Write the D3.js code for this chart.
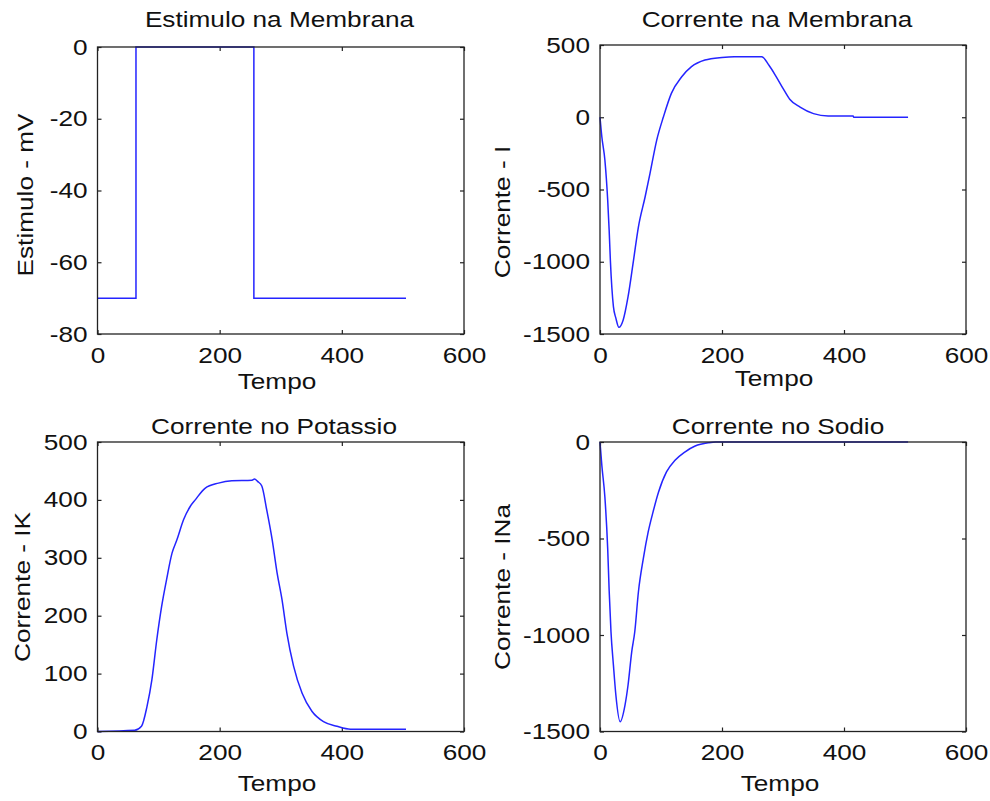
<!DOCTYPE html>
<html>
<head>
<meta charset="utf-8">
<script src="https://cdn.jsdelivr.net/npm/d3@7"></script>
<style>
  body { margin: 0; background: #fff; }
  svg text { font-family: "Liberation Sans", Arial, sans-serif; fill: #111; }
</style>
</head>
<body>
<div id="chart"></div>
<script>
// Estimulo na Membrana (mV) - step from -70 to 0 and back
var stimTime = [0, 63, 63, 256, 256, 505];
var stimValue = [-70, -70, 0, 0, -70, -70];

// Corrente na Membrana
var memTime = [0, 3, 8, 12.6, 15, 17, 22, 26, 31, 38, 46, 55, 63, 74, 82, 93, 104, 117, 134, 150, 172, 200, 220, 265, 277, 289, 300, 311, 328, 350, 374, 415, 416, 505];
var memValue = [0, -135, -296, -573, -780, -990, -1311, -1390, -1454, -1403, -1242, -988, -758, -550, -388, -158, 3, 165, 280, 350, 396, 414, 419, 419, 360, 280, 200, 125, 70, 25, 8, 8, 0, 0];

// Corrente no Potassio
var kTime = [0, 61, 72, 81, 89, 97, 105, 113, 122, 130, 141, 152, 160, 176, 198, 220, 253, 257, 262, 269, 277, 286, 294, 302, 310, 321, 335, 351, 370, 392, 414, 505];
var kValue = [0, 2, 9, 43, 89, 158, 216, 262, 308, 331, 366, 389, 400, 420, 429, 433, 434, 436, 432, 424, 383, 331, 274, 228, 170, 113, 66, 35, 17, 9, 4, 4];

// Corrente no Sodio
var naTime = [0, 3, 8, 12.6, 15, 18, 22, 26, 33, 41, 46, 52, 57, 63, 71, 79, 87, 96, 109, 123, 139, 156, 178, 190, 505];
var naValue = [0, -121, -285, -552, -768, -983, -1156, -1311, -1449, -1363, -1259, -1087, -983, -776, -604, -466, -362, -259, -155, -95, -52, -21, -4, 0, 0];

// tick values
var xTicks = [0, 200, 400, 600];
var stimTicks = [0, -20, -40, -60, -80];
var memTicks = [500, 0, -500, -1000, -1500];
var kTicks = [0, 100, 200, 300, 400, 500];
var naTicks = [0, -500, -1000, -1500];

var svgWidth = 990;
var svgHeight = 801;
var textStretch = 1.19;

var svg = d3.select("#chart")
  .append("svg")
  .attr("width", svgWidth)
  .attr("height", svgHeight);

// layout of the four subplots
var panels = [
  { time: stimTime, value: stimValue, yDomain: [-80, 0], yTicks: stimTicks,
    title: "Estimulo na Membrana", ylabel: "Estimulo - mV", curve: d3.curveLinear,
    box: { left: 97.5, right: 464, top: 47, bottom: 334 },
    titlePos: [279.5, 27], xlabelPos: [277, 389], ylabelPos: [33, 195] },
  { time: memTime, value: memValue, yDomain: [-1500, 500], yTicks: memTicks,
    title: "Corrente na Membrana", ylabel: "Corrente - I", curve: d3.curveMonotoneX,
    box: { left: 600, right: 966, top: 45, bottom: 334 },
    titlePos: [777, 27], xlabelPos: [774, 386], ylabelPos: [510, 212] },
  { time: kTime, value: kValue, yDomain: [0, 500], yTicks: kTicks,
    title: "Corrente no Potassio", ylabel: "Corrente - IK", curve: d3.curveMonotoneX,
    box: { left: 97.5, right: 464, top: 442, bottom: 731.5 },
    titlePos: [274, 434], xlabelPos: [277, 791], ylabelPos: [30, 587] },
  { time: naTime, value: naValue, yDomain: [-1500, 0], yTicks: naTicks,
    title: "Corrente no Sodio", ylabel: "Corrente - INa", curve: d3.curveMonotoneX,
    box: { left: 600, right: 966, top: 442, bottom: 731.5 },
    titlePos: [778, 434], xlabelPos: [780, 791], ylabelPos: [510, 587] }
];

// widen glyphs a little, the original font is broader than Arial
function stretch(sel) {
  sel.each(function() {
    var w = this.getComputedTextLength();
    d3.select(this)
      .attr("textLength", w * textStretch)
      .attr("lengthAdjust", "spacingAndGlyphs");
  });
}

function noLabel() { return ""; }

panels.forEach(function(p) {
  var b = p.box;
  var width = b.right - b.left;
  var height = b.bottom - b.top;

  var g = svg.append("g")
    .attr("transform", `translate(${b.left}, ${b.top})`);

  var x = d3.scaleLinear().domain([0, 600]).range([0, width]);
  var y = d3.scaleLinear().domain(p.yDomain).range([height, 0]);

  // axes: ticks point inwards like matlab
  var bottomAxis = g.append("g")
    .attr("transform", `translate(0, ${height})`)
    .call(d3.axisBottom(x).tickValues(xTicks).tickSizeInner(-4).tickSizeOuter(0)
      .tickPadding(13).tickFormat(d => String(d)));
  var leftAxis = g.append("g")
    .call(d3.axisLeft(y).tickValues(p.yTicks).tickSizeInner(-4).tickSizeOuter(0)
      .tickPadding(10).tickFormat(d => String(d)));
  g.append("g")
    .call(d3.axisTop(x).tickValues(xTicks).tickSizeInner(-4).tickSizeOuter(0).tickFormat(noLabel));
  g.append("g")
    .attr("transform", `translate(${width}, 0)`)
    .call(d3.axisRight(y).tickValues(p.yTicks).tickSizeInner(-4).tickSizeOuter(0).tickFormat(noLabel));

  g.selectAll(".domain").remove();
  g.selectAll(".tick line").attr("stroke", "#222").attr("stroke-width", 1.2);

  [bottomAxis, leftAxis].forEach(function(ax) {
    ax.selectAll("text")
      .attr("font-size", "22px")
      .attr("fill", "#111")
      .style("font-family", "'Liberation Sans', Arial, sans-serif")
      .call(stretch);
  });

  // the curve
  var pts = p.time.map((t, i) => [t, p.value[i]]);
  g.append("path")
    .datum(pts)
    .attr("fill", "none")
    .attr("stroke", "#2424ff")
    .attr("stroke-width", 1.5)
    .attr("d", d3.line().curve(p.curve).x(d => x(d[0])).y(d => y(d[1])));

  // box
  g.append("rect")
    .attr("width", width)
    .attr("height", height)
    .attr("fill", "none")
    .attr("stroke", "#222")
    .attr("stroke-width", 1.3);

  // title + labels
  svg.append("text")
    .attr("x", p.titlePos[0])
    .attr("y", p.titlePos[1])
    .attr("text-anchor", "middle")
    .attr("font-size", "22px")
    .text(p.title)
    .call(stretch);

  svg.append("text")
    .attr("x", p.xlabelPos[0])
    .attr("y", p.xlabelPos[1])
    .attr("text-anchor", "middle")
    .attr("font-size", "22px")
    .text("Tempo")
    .call(stretch);

  svg.append("text")
    .attr("transform", `translate(${p.ylabelPos[0]}, ${p.ylabelPos[1]}) rotate(-90)`)
    .attr("text-anchor", "middle")
    .attr("font-size", "22px")
    .text(p.ylabel)
    .call(stretch);
});
</script>
</body>
</html>
